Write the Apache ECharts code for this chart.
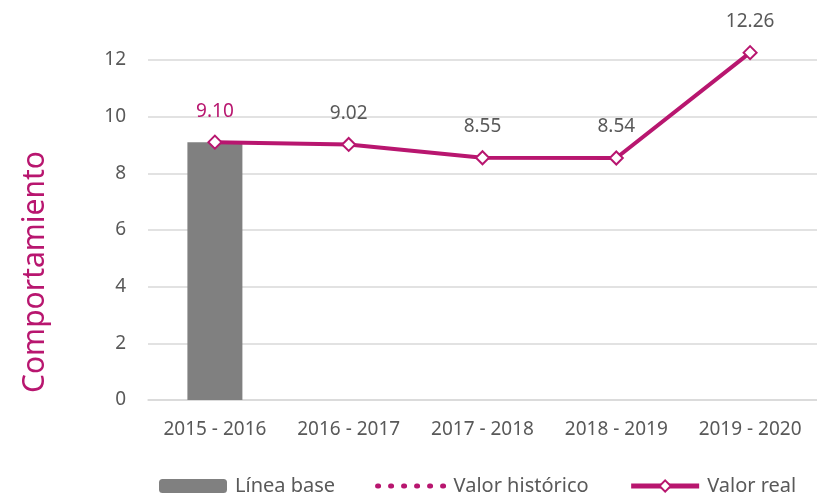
<!DOCTYPE html>
<html>
<head>
<meta charset="utf-8">
<script src="https://cdn.jsdelivr.net/npm/echarts@6/dist/echarts.min.js"></script>
<style>
  html, body { margin: 0; padding: 0; background: #fff; }
  #chart { width: 817px; height: 493px; }
</style>
</head>
<body>
<div id="chart"></div>
<script>
var myChart = echarts.init(document.getElementById('chart'));

// datos
var categories = ['2015 - 2016', '2016 - 2017', '2017 - 2018', '2018 - 2019', '2019 - 2020'];
var lineaBase = [9.10, null, null, null, null];
var valorHistorico = [null, null, null, null, null];
var valorReal = [9.10, 9.02, 8.55, 8.54, 12.26];
var yTicks = [0, 2, 4, 6, 8, 10, 12];

var magenta = '#B8166F';
var textColor = '#595959';
var gridColor = '#D9D9D9';
var fontFamily = 'Noto Sans';

var option = {
    backgroundColor: '#fff',
    animation: false,
    textStyle: { fontFamily: fontFamily },
    grid: {
        left: 148,
        top: 60,
        width: 685,
        height: 340
    },
    graphic: [{
        type: 'text',
        x: 35,
        y: 272,
        rotation: Math.PI / 2,
        style: {
            text: 'Comportamiento',
            fill: magenta,
            fontSize: 30,
            fontFamily: fontFamily,
            align: 'center',
            verticalAlign: 'middle'
        }
    }],
    legend: {
        left: 154,
        top: 471,
        itemWidth: 68,
        itemHeight: 14,
        itemGap: 40,
        textStyle: { color: textColor, fontSize: 20, fontFamily: fontFamily, padding: [0, 0, 0, 3] },
        data: [
            { name: 'Línea base' },
            { name: 'Valor histórico', itemStyle: { opacity: 0 }, lineStyle: { width: 5 } },
            { name: 'Valor real', lineStyle: { width: 5 } }
        ]
    },
    xAxis: {
        type: 'category',
        data: categories,
        axisLine: { show: true, lineStyle: { color: gridColor, width: 1.5 } },
        axisTick: { show: false },
        axisLabel: { color: textColor, fontSize: 19, margin: 20, interval: 0, fontFamily: fontFamily }
    },
    yAxis: {
        type: 'value',
        min: yTicks[0],
        max: yTicks[yTicks.length - 1],
        interval: 2,
        axisLine: { show: false },
        axisTick: { show: false },
        axisLabel: { color: textColor, fontSize: 19, margin: 22, fontFamily: fontFamily },
        splitLine: { lineStyle: { color: gridColor, width: 1.5 } }
    },
    series: [
        {
            name: 'Línea base',
            type: 'bar',
            barWidth: 55,
            itemStyle: { color: '#808080' },
            data: lineaBase
        },
        {
            name: 'Valor histórico',
            type: 'line',
            symbol: 'none',
            lineStyle: { color: magenta, width: 5, type: [1, 12], cap: 'round' },
            itemStyle: { color: magenta },
            data: valorHistorico
        },
        {
            name: 'Valor real',
            type: 'line',
            clip: false,
            symbol: 'diamond',
            symbolSize: 13,
            lineStyle: { color: magenta, width: 4 },
            itemStyle: { color: '#fff', borderColor: magenta, borderWidth: 2 },
            label: {
                show: true,
                position: 'top',
                distance: 14,
                fontSize: 19,
                fontFamily: fontFamily,
                color: textColor,
                formatter: function (p) { return p.value.toFixed(2); }
            },
            data: valorReal.map(function (v, i) {
                if (i === 0) {
                    return { value: v, label: { color: magenta } };
                }
                return v;
            })
        }
    ]
};

myChart.setOption(option);
</script>
</body>
</html>
